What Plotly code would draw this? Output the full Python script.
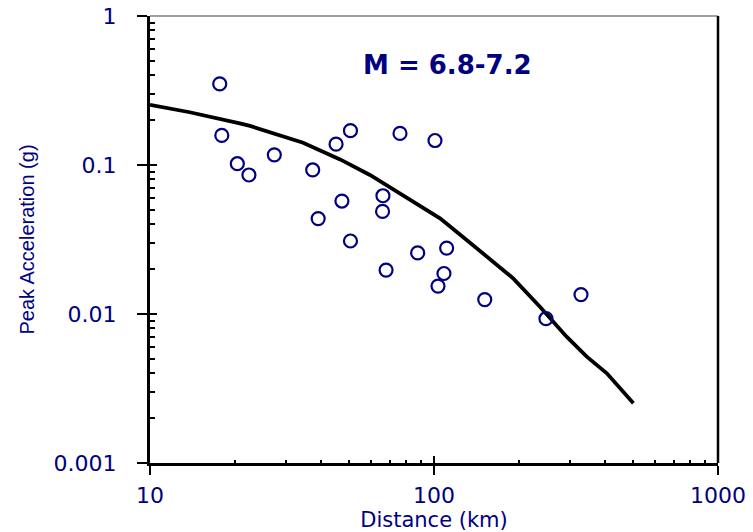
import plotly.graph_objects as go

# Observed data (distance km, peak acceleration g)
obs_distance = [17.6, 17.9, 20.3, 22.3, 27.4, 37.4, 45.2, 50.8, 75.9, 100.8,
                47.4, 39.1, 66.1, 65.9, 50.8, 67.8, 87.6, 110.8, 108.4, 103.3,
                150.9, 247.9, 329.3]
obs_pga = [0.350, 0.158, 0.102, 0.0857, 0.117, 0.0926, 0.138, 0.170, 0.163, 0.146,
           0.0573, 0.0437, 0.0622, 0.0488, 0.0309, 0.0197, 0.0257, 0.0277, 0.0187, 0.0154,
           0.0125, 0.0093, 0.0135]

# Attenuation curve
curve_distance = [10, 13.8, 20.7, 22.5, 34.6, 46.7, 59.5, 75.9, 89.3, 105, 130.3,
                  170.7, 189.7, 236, 293, 345, 406, 503.6]
curve_pga = [0.253, 0.226, 0.1905, 0.183, 0.141, 0.109, 0.0857, 0.0645, 0.0525, 0.0439,
             0.0314, 0.0207, 0.0174, 0.0112, 0.00704, 0.00517, 0.0040, 0.00252]

x_ticks = [10, 100, 1000]
x_tick_text = ["10", "100", "1000"]
y_ticks = [0.001, 0.01, 0.1, 1]
y_tick_text = ["0.001", "0.01", "0.1", "1"]

title_text = "M = 6.8-7.2"
x_title = "Distance (km)"
y_title = "Peak Acceleration (g)"

NAVY = "#000080"
TICKFONT = dict(family="DejaVu Sans", size=22, color=NAVY)

fig = go.Figure()
fig.add_trace(go.Scatter(x=curve_distance, y=curve_pga, mode="lines",
                         line=dict(color="black", width=3.8), showlegend=False,
                         hoverinfo="skip"))
fig.add_trace(go.Scatter(x=obs_distance, y=obs_pga, mode="markers",
                         marker=dict(symbol="circle-open", size=13, color=NAVY,
                                     line=dict(width=2.2, color=NAVY)),
                         showlegend=False))
# empty trace so the overlay (inside-tick) axes are drawn
fig.add_trace(go.Scatter(x=[], y=[], xaxis="x2", yaxis="y2", showlegend=False,
                         hoverinfo="skip"))

fig.update_layout(
    width=753, height=532,
    margin=dict(l=150, r=35, t=16, b=69, autoexpand=False),
    paper_bgcolor="white", plot_bgcolor="white",
    showlegend=False,
    xaxis=dict(type="log", range=[1, 3], tickvals=x_ticks, ticktext=x_tick_text,
               ticks="outside", ticklen=9, tickwidth=2, tickcolor="black",
               showline=True, linecolor="black", linewidth=3,
               showgrid=False, zeroline=False, tickfont=TICKFONT,
               ticklabelstandoff=2,
               title=dict(text=x_title, font=dict(family="DejaVu Sans", size=21, color=NAVY),
                          standoff=2)),
    yaxis=dict(type="log", range=[-3, 0], tickvals=y_ticks, ticktext=y_tick_text,
               ticks="outside", ticklen=10, tickwidth=2, tickcolor="black",
               showline=True, linecolor="black", linewidth=3,
               showgrid=False, zeroline=False, tickfont=TICKFONT,
               ticklabelstandoff=16,
               title=dict(text=y_title, font=dict(family="Liberation Sans", size=20, color=NAVY),
                          standoff=14)),
    xaxis2=dict(type="log", range=[1, 3], overlaying="x", matches="x", side="bottom",
                tickmode="linear", dtick=1, ticks="inside", ticklen=7, tickwidth=2,
                tickcolor="black", showticklabels=False, showline=False, showgrid=False,
                zeroline=False,
                minor=dict(ticks="inside", ticklen=3, tickwidth=2, tickcolor="black",
                           dtick="D1", showgrid=False)),
    yaxis2=dict(type="log", range=[-3, 0], overlaying="y", matches="y", side="left",
                tickmode="linear", dtick=1, ticks="inside", ticklen=7, tickwidth=2,
                tickcolor="black", showticklabels=False, showline=False, showgrid=False,
                zeroline=False,
                minor=dict(ticks="inside", ticklen=5, tickwidth=1.5, tickcolor="black",
                           dtick="D1", showgrid=False)),
    shapes=[
        dict(type="line", xref="paper", yref="paper", x0=0, x1=1, y0=1, y1=1,
             line=dict(color="#808080", width=1.5)),
        dict(type="line", xref="paper", yref="paper", x0=1, x1=1, y0=0, y1=1,
             line=dict(color="black", width=2.5)),
    ],
    annotations=[
        dict(text="<b>" + title_text + "</b>", xref="paper", yref="paper",
             x=0.523, y=0.890, showarrow=False, xanchor="center", yanchor="middle",
             font=dict(family="DejaVu Sans", size=26, color=NAVY)),
    ],
)

fig.write_html("out.html", config={"displayModeBar": False},
               post_script="document.body.style.margin='0px';")
